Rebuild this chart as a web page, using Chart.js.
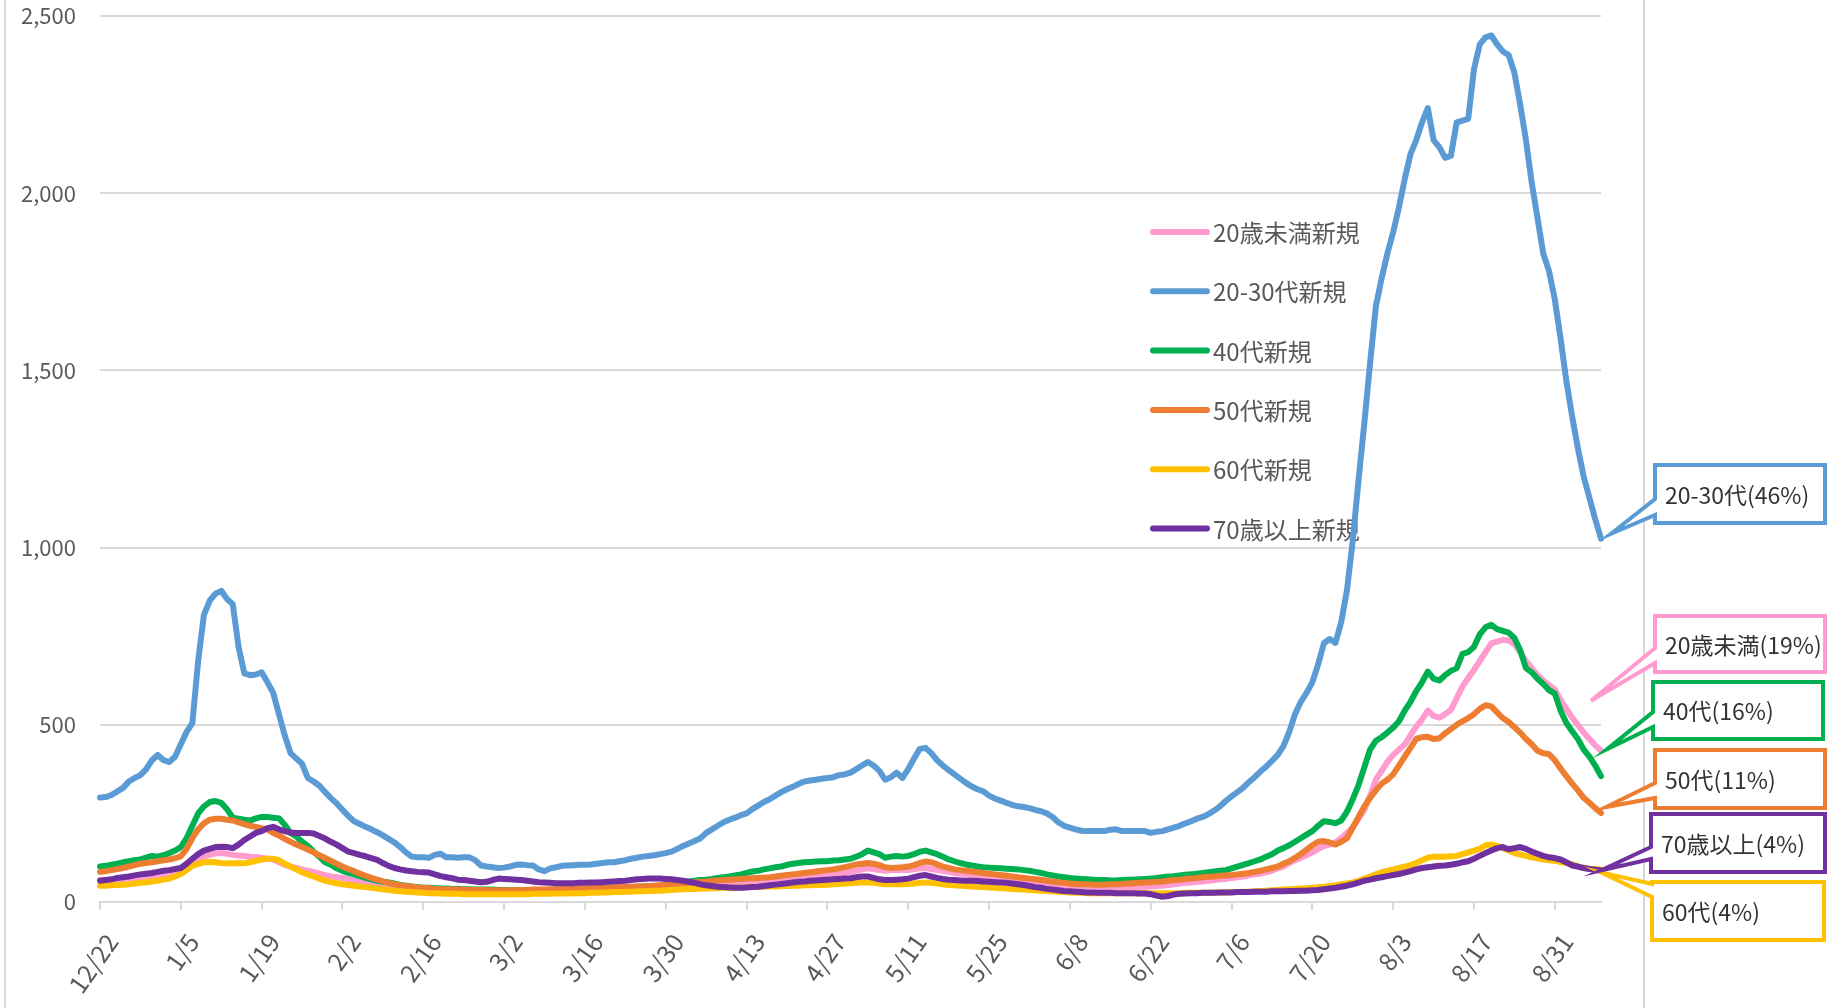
<!DOCTYPE html>
<html>
<head>
<meta charset="utf-8">
<script src="https://cdn.jsdelivr.net/npm/chart.js@4.4.1/dist/chart.umd.min.js"></script>
<style>
  html, body { margin: 0; padding: 0; background: #fff; }
  #wrap { width: 1842px; height: 1008px; position: relative; }
</style>
</head>
<body>
<div id="wrap"><canvas id="Chart"></canvas></div>
<script>
// daily values, 12/22 .. 9/8 (14 per row, each row starts on a tick date)
const startDate = [2020, 11, 22];
const tickLabels = ['12/22', '1/5', '1/19', '2/2', '2/16', '3/2', '3/16', '3/30', '4/13', '4/27',
                    '5/11', '5/25', '6/8', '6/22', '7/6', '7/20', '8/3', '8/17', '8/31'];

const seriesNames = ['20歳未満新規', '20-30代新規', '40代新規', '50代新規', '60代新規', '70歳以上新規'];
const seriesColors = ['#FF9BCF', '#5B9BD5', '#00B050', '#ED7D31', '#FFC000', '#7030A0'];

const under20 = [
  62, 62, 63, 64, 65, 66, 68, 70, 72, 74, 75, 78, 80, 84,
  90, 100, 110, 120, 128, 133, 137, 138, 136, 133, 131, 130, 128, 127,
  125, 122, 120, 112, 105, 100, 96, 92, 88, 85, 80, 76, 72, 70,
  68, 64, 60, 56, 53, 50, 47, 45, 43, 41, 40, 38, 37, 36,
  35, 34, 33, 33, 32, 31, 31, 30, 30, 30, 29, 29, 28, 28,
  28, 28, 27, 27, 27, 27, 28, 28, 28, 28, 28, 29, 29, 29,
  30, 30, 30, 31, 31, 31, 32, 32, 33, 33, 34, 34, 35, 35,
  36, 37, 38, 40, 42, 43, 44, 45, 47, 48, 50, 52, 53, 55,
  56, 57, 58, 60, 62, 63, 64, 65, 66, 68, 70, 72, 73, 75,
  76, 78, 80, 82, 85, 88, 92, 95, 93, 90, 88, 90, 91, 90,
  90, 92, 95, 96, 93, 90, 88, 85, 82, 80, 78, 76, 74, 72,
  70, 68, 66, 64, 62, 60, 58, 56, 54, 52, 50, 49, 48, 47,
  46, 45, 45, 44, 43, 43, 42, 42, 42, 42, 42, 42, 43, 43,
  44, 45, 46, 48, 50, 52, 54, 55, 57, 58, 60, 62, 64, 65,
  68, 70, 72, 75, 78, 80, 84, 88, 95, 100, 110, 118, 125, 132,
  140, 150, 158, 162, 168, 180, 195, 210, 235, 260, 300, 345, 370, 395,
  415, 430, 445, 470, 495, 515, 540, 525, 520, 530, 542, 575, 608, 632,
  655, 680, 705, 730, 735, 740, 738, 728, 705, 680, 660, 640, 625, 612,
  600, 570, 545, 520, 500, 478, 460, 442, 427
];

const age20to30 = [
  295, 296, 302, 312, 322, 340, 350, 358, 375, 400, 415, 400, 395, 410,
  445, 480, 505, 680, 810, 850, 870, 878, 855, 840, 720, 645, 640, 642,
  648, 620, 590, 530, 470, 420, 405, 390, 350, 340, 328, 310, 293, 278,
  260, 243, 228, 220, 212, 205, 197, 188, 178, 168, 155, 140, 128, 126,
  126, 125, 133, 136, 126, 126, 125, 126, 126, 118, 103, 100, 98, 96,
  97, 100, 105, 106, 104, 103, 92, 87, 95, 98, 102, 103, 104, 105,
  105, 106, 108, 110, 112, 112, 115, 118, 122, 125, 128, 130, 132, 135,
  138, 142, 150, 158, 165, 172, 180, 195, 205, 215, 225, 232, 238, 245,
  250, 262, 272, 282, 290, 300, 310, 318, 325, 333, 340, 343, 345, 348,
  350, 352, 358, 360, 365, 375, 385, 395, 385, 370, 345, 352, 365, 350,
  375, 405, 432, 435, 420, 400, 385, 372, 360, 348, 336, 326, 318, 312,
  300, 292, 286, 280, 274, 270, 268, 265, 260, 256, 250, 240, 225, 215,
  210, 205, 201, 200, 200, 200, 200, 204, 205, 200, 200, 200, 200, 200,
  195, 198, 200, 205, 210, 215, 222, 228, 235, 240, 248, 258, 270, 285,
  298, 310, 322, 338, 352, 368, 382, 398, 415, 440, 480, 530, 565, 590,
  620, 670, 730, 742, 731, 790, 880, 1020, 1190, 1350, 1520, 1680, 1760, 1830,
  1890, 1960, 2040, 2110, 2150, 2200, 2240, 2150, 2130, 2100, 2105, 2200, 2205, 2210,
  2350, 2420, 2440, 2445, 2420, 2400, 2390, 2340, 2250, 2150, 2030, 1930, 1830, 1780,
  1700, 1590, 1470, 1370, 1280, 1200, 1140, 1080, 1025
];

const age40 = [
  100, 102, 105, 108, 112, 115, 118, 120, 125, 130, 128, 132, 138, 145,
  155, 180, 215, 250, 270, 282, 285, 280, 262, 238, 235, 232, 230, 236,
  240, 240, 238, 236, 218, 195, 185, 170, 158, 142, 128, 112, 105, 95,
  88, 82, 78, 73, 68, 64, 60, 57, 55, 52, 48, 46, 44, 42,
  40, 40, 39, 38, 38, 37, 37, 36, 36, 35, 35, 35, 35, 34,
  34, 34, 34, 33, 33, 33, 34, 34, 34, 35, 35, 36, 36, 37,
  37, 38, 38, 39, 40, 40, 41, 42, 42, 43, 44, 45, 45, 46,
  47, 49, 52, 55, 58, 60, 62, 63, 65, 68, 70, 72, 75, 78,
  82, 86, 88, 92, 95, 98, 100, 105, 108, 110, 112, 113, 114, 115,
  115, 117, 118, 120, 122, 128, 135, 145, 140, 135, 125, 128, 130, 128,
  130, 135, 142, 145, 140, 135, 128, 120, 115, 110, 106, 103, 100, 98,
  97, 96, 95, 94, 93, 92, 90, 88, 85, 82, 78, 75, 72, 70,
  68, 66, 65, 64, 63, 62, 62, 61, 61, 62, 63, 63, 64, 65,
  66, 68, 70, 72, 73, 75, 77, 78, 80, 82, 84, 86, 88, 90,
  95, 100, 105, 110, 115, 120, 128, 135, 145, 152, 160, 170, 180, 190,
  200, 215, 228, 226, 222, 230, 255, 290, 330, 380, 430, 455, 465, 478,
  492, 510, 540, 565, 595, 620, 650, 630, 625, 640, 652, 660, 700, 705,
  720, 755, 775, 782, 770, 765, 760, 745, 710, 660, 648, 630, 615, 598,
  588, 540, 505, 482, 460, 430, 410, 385, 355
];

const age50 = [
  85, 87, 90, 93, 96, 100, 104, 108, 110, 112, 115, 118, 120, 124,
  129, 150, 180, 205, 222, 232, 235, 235, 232, 230, 225, 220, 215, 212,
  208, 205, 195, 188, 178, 170, 162, 155, 148, 140, 132, 124, 116, 108,
  100, 93, 87, 80, 74, 68, 63, 58, 54, 50, 47, 45, 43, 41,
  40, 39, 37, 36, 36, 35, 35, 35, 34, 34, 34, 33, 33, 33,
  33, 33, 34, 34, 34, 35, 35, 35, 36, 36, 37, 37, 38, 38,
  39, 39, 40, 40, 41, 41, 42, 42, 43, 44, 44, 45, 46, 47,
  48, 49, 50, 52, 54, 55, 57, 58, 60, 61, 62, 63, 64, 65,
  66, 67, 68, 69, 70, 72, 74, 76, 78, 80, 82, 84, 86, 88,
  90, 92, 95, 98, 102, 106, 108, 110, 108, 104, 98, 96, 97, 98,
  100, 104, 110, 114, 112, 106, 100, 96, 92, 90, 88, 86, 84, 82,
  80, 78, 76, 74, 72, 70, 68, 66, 64, 62, 60, 58, 56, 54,
  52, 51, 50, 50, 49, 49, 49, 50, 50, 51, 52, 53, 54, 55,
  56, 57, 58, 60, 62, 63, 65, 66, 68, 70, 71, 72, 74, 75,
  76, 78, 80, 82, 85, 88, 92, 96, 100, 108, 115, 125, 135, 148,
  160, 170, 172, 168, 162, 170, 180, 210, 240, 270, 294, 315, 334, 345,
  360, 385, 410, 435, 460, 465, 466, 460, 462, 476, 488, 500, 510, 519,
  530, 545, 555, 552, 535, 519, 508, 493, 478, 460, 445, 427, 420, 417,
  400, 377, 355, 334, 315, 294, 280, 265, 251
];

const age60 = [
  46, 46, 47, 48, 49, 50, 52, 54, 56, 58, 60, 63, 66, 72,
  79, 90, 102, 108, 112, 113, 112, 110, 109, 109, 110, 109, 112, 116,
  120, 122, 122, 118, 108, 100, 92, 84, 78, 72, 66, 60, 56, 53,
  50, 48, 46, 44, 42, 40, 38, 36, 34, 32, 30, 29, 28, 27,
  26, 25, 25, 24, 23, 23, 23, 22, 22, 22, 22, 22, 22, 22,
  22, 22, 22, 22, 22, 23, 23, 23, 23, 24, 24, 24, 25, 25,
  25, 26, 26, 27, 27, 28, 28, 29, 29, 30, 30, 31, 32, 32,
  33, 34, 35, 36, 37, 37, 38, 38, 39, 39, 40, 40, 41, 41,
  42, 42, 43, 43, 44, 44, 45, 45, 46, 46, 47, 47, 48, 48,
  49, 50, 51, 52, 53, 54, 55, 55, 54, 52, 50, 50, 50, 50,
  51, 52, 54, 55, 54, 52, 50, 48, 47, 46, 45, 44, 43, 42,
  41, 40, 39, 38, 37, 36, 35, 34, 33, 32, 31, 30, 29, 28,
  27, 26, 26, 25, 25, 25, 25, 25, 25, 25, 25, 25, 25, 25,
  25, 25, 25, 25, 25, 25, 26, 26, 26, 26, 26, 27, 27, 27,
  28, 28, 29, 29, 30, 31, 32, 33, 34, 35, 36, 37, 38, 39,
  40, 42, 43, 45, 47, 50, 52, 55, 60, 66, 72, 78, 84, 88,
  92, 96, 100, 104, 110, 118, 125, 128, 128, 128, 129, 130, 135, 140,
  145, 150, 160, 162, 158, 152, 145, 138, 134, 130, 126, 123, 120, 118,
  116, 113, 110, 107, 100, 96, 94, 93, 92
];

const over70 = [
  60, 62, 64, 68, 70, 72, 75, 78, 80, 82, 85, 88, 90, 93,
  96, 108, 122, 135, 145, 150, 155, 156, 155, 152, 162, 175, 185, 195,
  200, 208, 212, 205, 200, 196, 195, 195, 195, 193, 186, 179, 170, 162,
  152, 142, 138, 133, 129, 124, 119, 110, 102, 96, 92, 89, 87, 85,
  84, 83, 78, 73, 70, 67, 63, 62, 60, 58, 56, 57, 62, 66,
  65, 64, 63, 62, 60, 58, 56, 55, 54, 53, 53, 53, 53, 54,
  54, 55, 55, 56, 57, 58, 59, 60, 62, 64, 65, 66, 66, 66,
  65, 64, 62, 60, 57, 54, 50, 47, 45, 43, 42, 41, 40, 40,
  41, 42, 43, 45, 47, 49, 51, 53, 55, 57, 58, 60, 61, 62,
  63, 64, 65, 66, 67, 70, 72, 72, 68, 64, 62, 62, 63, 64,
  66, 70, 74, 76, 72, 68, 65, 63, 62, 61, 60, 60, 59, 58,
  57, 56, 55, 54, 52, 50, 48, 45, 42, 40, 37, 35, 33, 31,
  30, 29, 28, 27, 27, 26, 26, 26, 25, 25, 25, 25, 24, 24,
  22, 18, 15, 17, 21, 23, 24, 25, 25, 26, 26, 26, 27, 27,
  27, 28, 28, 28, 29, 29, 29, 30, 30, 30, 31, 31, 32, 32,
  33, 34, 36, 38, 40, 43, 46, 50, 55, 60, 63, 67, 70, 73,
  76, 79, 83, 87, 92, 96, 98, 100, 102, 103, 105, 108, 112, 115,
  122, 130, 138, 145, 152, 155, 149, 152, 155, 150, 142, 136, 130, 126,
  124, 120, 112, 103, 100, 96, 93, 91, 89
];

const seriesValues = [under20, age20to30, age40, age50, age60, over70];

// date labels M/D from the start date, one per value
const labels = age20to30.map((_, i) => {
  const d = new Date(Date.UTC(startDate[0], startDate[1], startDate[2] + i));
  return (d.getUTCMonth() + 1) + '/' + d.getUTCDate();
});

// callout boxes on the right (canvas px), pointer tip is offset from the series' last point
const callouts = [
  { ds: 1, text: '20-30代(46%)', x: 1655, y: 465, w: 170, h: 58, b0: 34, b1: 50, dx: 10, dy: -5 },
  { ds: 0, text: '20歳未満(19%)', x: 1655, y: 616, w: 170, h: 56, b0: 32, b1: 47, dx: -10, dy: -50 },
  { ds: 2, text: '40代(16%)', x: 1653, y: 682, w: 170, h: 57, b0: 30, b1: 45, dx: 6, dy: -27 },
  { ds: 3, text: '50代(11%)', x: 1655, y: 750, w: 170, h: 58, b0: 33, b1: 48, dx: 5, dy: -6 },
  { ds: 4, text: '60代(4%)', x: 1652, y: 882, w: 172, h: 58, b0: 2, b1: 15, dx: 0, dy: 3 },
  { ds: 5, text: '70歳以上(4%)', x: 1651, y: 814, w: 174, h: 58, b0: 33, b1: 45, dx: 0, dy: 0 }
];

const FONT = '"Noto Sans CJK JP", "Noto Sans", sans-serif';

const frame = {
  id: 'frame',
  beforeDraw(chart) {
    const c = chart.ctx;
    c.save();
    c.fillStyle = '#fff';
    c.fillRect(0, 0, chart.width, chart.height);
    c.strokeStyle = '#d9d9d9';
    c.lineWidth = 2;
    c.beginPath();
    c.moveTo(5, 0); c.lineTo(5, chart.height);
    c.moveTo(1644, 0); c.lineTo(1644, chart.height);
    c.stroke();
    c.restore();
  }
};

const legendBox = {
  id: 'legendBox',
  beforeDatasetsDraw(chart) {
    const c = chart.ctx;
    c.save();
    c.font = '24px ' + FONT;
    c.textBaseline = 'middle';
    c.lineCap = 'round';
    seriesNames.forEach((name, i) => {
      const y = 232 + i * 59.3;
      c.strokeStyle = seriesColors[i];
      c.lineWidth = 6;
      c.beginPath();
      c.moveTo(1153, y);
      c.lineTo(1207, y);
      c.stroke();
      c.fillStyle = '#595959';
      c.fillText(name, 1213, y + 1);
    });
    c.restore();
  }
};

const calloutBoxes = {
  id: 'calloutBoxes',
  afterDatasetsDraw(chart) {
    const c = chart.ctx;
    c.save();
    callouts.forEach(co => {
      const pts = chart.getDatasetMeta(co.ds).data;
      const last = pts[pts.length - 1];
      const tx = last.x + co.dx, ty = last.y + co.dy;
      c.beginPath();
      c.moveTo(co.x, co.y);
      c.lineTo(co.x + co.w, co.y);
      c.lineTo(co.x + co.w, co.y + co.h);
      c.lineTo(co.x, co.y + co.h);
      c.lineTo(co.x, co.y + co.b1);
      c.lineTo(tx, ty);
      c.lineTo(co.x, co.y + co.b0);
      c.closePath();
      c.fillStyle = '#fff';
      c.fill();
      c.strokeStyle = seriesColors[co.ds];
      c.lineWidth = 4;
      c.lineJoin = 'miter';
      c.stroke();
      c.fillStyle = '#333';
      c.font = '23px ' + FONT;
      c.textBaseline = 'middle';
      c.fillText(co.text, co.x + 10, co.y + co.h / 2 + 1);
    });
    c.restore();
  }
};

const ctx = document.getElementById('Chart').getContext('2d');
const ageChart = new Chart(ctx, {
  type: 'line',
  data: {
    labels: labels,
    datasets: seriesNames.map((name, i) => ({
      label: name,
      data: seriesValues[i],
      borderColor: seriesColors[i],
      backgroundColor: seriesColors[i],
      borderWidth: 6,
      pointRadius: 0,
      tension: 0,
      borderJoinStyle: 'round',
      borderCapStyle: 'round',
      order: seriesNames.length - i   // later series on top, like the original
    }))
  },
  options: {
    responsive: true,
    maintainAspectRatio: false,
    animation: false,
    layout: { padding: { left: 0, right: 241, top: 16, bottom: 0 } },
    plugins: {
      legend: { display: false },
      tooltip: { enabled: false }
    },
    scales: {
      x: {
        offset: false,
        afterFit(s) { s.height = 106; s.paddingLeft = 0; s.paddingRight = 0; },
        border: { display: true, color: '#d9d9d9', width: 2 },
        grid: {
          drawOnChartArea: false,
          drawTicks: true,
          tickLength: 8,
          lineWidth: 2,
          color: (c) => tickLabels.includes(labels[c.index]) ? '#d9d9d9' : 'rgba(0,0,0,0)'
        },
        ticks: {
          autoSkip: false,
          minRotation: 55,
          maxRotation: 55,
          padding: 18,
          labelOffset: 12,
          color: '#595959',
          font: { family: FONT, size: 25 },
          callback: function (value) {
            const lab = this.getLabelForValue(value);
            return tickLabels.includes(lab) ? lab : '';
          }
        }
      },
      y: {
        min: 0,
        max: 2500,
        afterFit(s) { s.width = 100; s.paddingTop = 0; s.paddingBottom = 0; },
        border: { display: false },
        grid: { color: '#d9d9d9', lineWidth: 2, drawTicks: false },
        ticks: {
          stepSize: 500,
          padding: 24,
          color: '#595959',
          font: { family: FONT, size: 22 },
          callback: (v) => v.toLocaleString('en-US')
        }
      }
    }
  },
  plugins: [frame, legendBox, calloutBoxes]
});
</script>
</body>
</html>
